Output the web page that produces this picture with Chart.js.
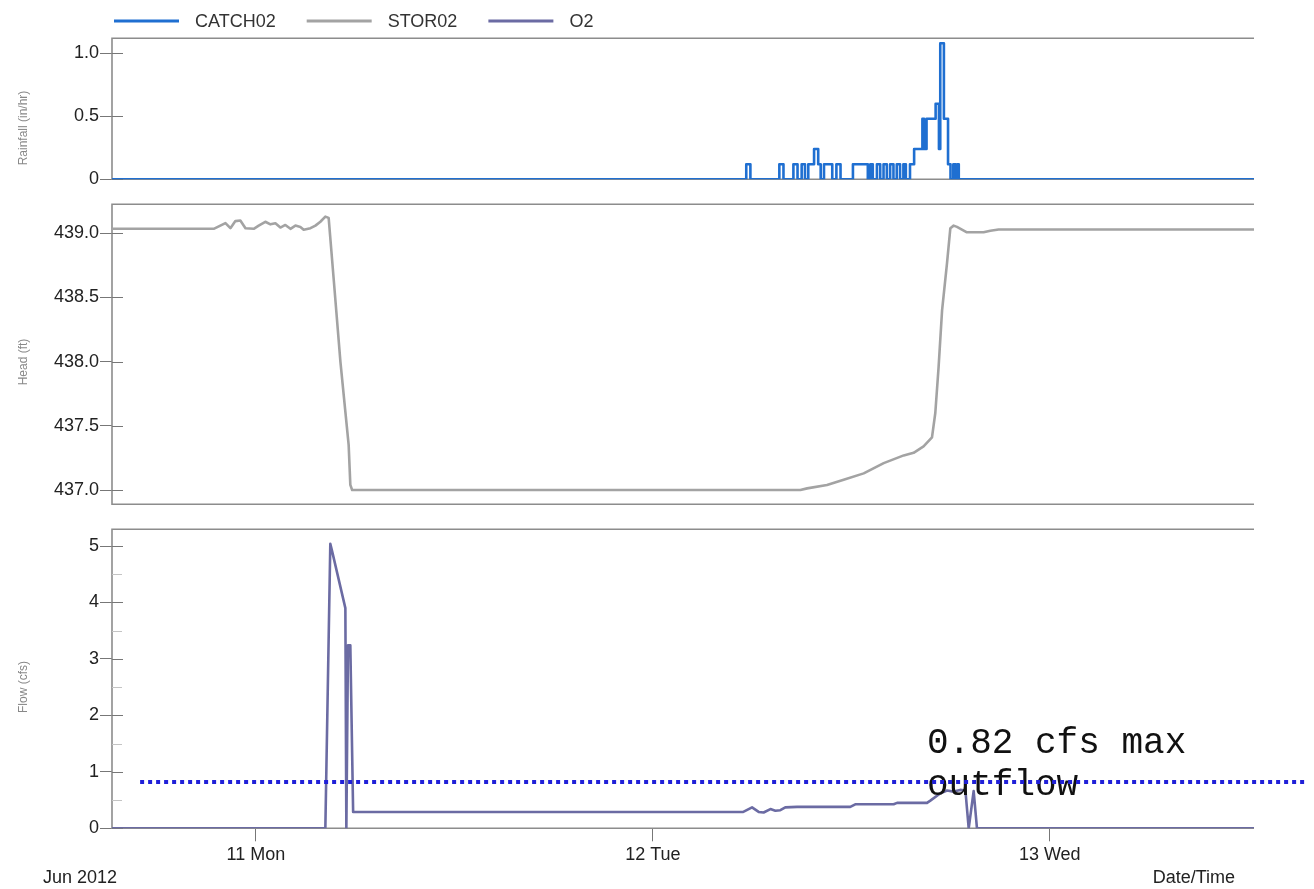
<!DOCTYPE html>
<html>
<head>
<meta charset="utf-8">
<title>CATCH02 / STOR02 / O2</title>
<script src="https://cdn.jsdelivr.net/npm/chart.js@4.4.1/dist/chart.umd.min.js"></script>
<style>
  html, body { margin: 0; padding: 0; background: #fff; }
  #wrap { position: relative; width: 1314px; height: 889px; overflow: hidden; background: #fff; }
  #wrap canvas { position: absolute; left: 0; }
</style>
</head>
<body>
<div id="wrap">
  <canvas id="rainChart" width="1314" height="200" style="top:0px"></canvas>
  <canvas id="headChart" width="1314" height="330" style="top:190px"></canvas>
  <canvas id="flowChart" width="1314" height="374" style="top:515px"></canvas>
</div>
<script>
// ---- time axis: hours counted from 10 Jun 2012 00:00 ----
const timeMin = 15.3;
const timeMax = 84.35;
const dayTicks  = [24, 48, 72];
const dayLabels = ['11 Mon', '12 Tue', '13 Wed'];
const monthLabel = 'Jun 2012';
const timeAxisLabel = 'Date/Time';

// ---- series names / colours ----
const seriesNames  = ['CATCH02', 'STOR02', 'O2'];
const seriesColors = ['#1f6fd1', '#a3a3a3', '#6b6ba3'];

// ---- CATCH02 rainfall (in/hr), step series: each value holds until the next time ----
const rainTime  = [15.3, 53.65, 53.9, 55.65, 55.9, 56.5, 56.75, 57.0, 57.2, 57.4, 57.75, 58.0, 58.15,
                   58.35, 58.85, 59.1, 59.35, 60.1, 61.0, 61.15, 61.3, 61.55, 61.75, 61.95, 62.15,
                   62.35, 62.55, 62.75, 62.95, 63.15, 63.3, 63.55, 63.8, 64.3, 64.4, 64.55, 65.1,
                   65.3, 65.38, 65.6, 65.85, 66.0, 66.17, 66.3, 66.4, 66.5, 84.35];
const rainValue = [0, 0.12, 0, 0.12, 0, 0.12, 0, 0.12, 0, 0.12, 0.24, 0.12, 0,
                   0.12, 0, 0.12, 0, 0.12, 0, 0.12, 0, 0.12, 0, 0.12, 0,
                   0.12, 0, 0.12, 0, 0.12, 0, 0.12, 0.24, 0.48, 0.24, 0.48, 0.6,
                   0.24, 1.08, 0.48, 0.12, 0, 0.12, 0, 0.12, 0, 0];
const rainTicks = [0, 0.5, 1.0];

// ---- STOR02 head (ft) ----
const headTime  = [15.3, 21.45, 21.85, 22.16, 22.46, 22.76, 23.06, 23.37, 23.87, 24.17, 24.57, 24.88,
                   25.18, 25.48, 25.78, 26.09, 26.39, 26.69, 26.89, 27.30, 27.60, 27.90, 28.20, 28.40,
                   28.70, 29.11, 29.61, 29.71, 29.82, 56.92, 57.33, 58.53, 59.54, 60.75, 61.96, 63.17,
                   63.77, 64.37, 64.88, 65.08, 65.28, 65.49, 65.79, 65.99, 66.19, 66.39, 66.99, 68.00,
                   68.41, 68.91, 84.35];
const headValue = [439.035, 439.035, 439.06, 439.08, 439.04, 439.095, 439.10, 439.04, 439.035, 439.06, 439.09, 439.07,
                   439.078, 439.045, 439.065, 439.035, 439.06, 439.05, 439.028, 439.04, 439.06, 439.09, 439.13, 439.12,
                   438.65, 438.0, 437.35, 437.04, 437.0, 437.0, 437.013, 437.04, 437.08, 437.13, 437.21, 437.27,
                   437.29, 437.34, 437.41, 437.6, 437.96, 438.4, 438.77, 439.04, 439.06, 439.05, 439.008, 439.008,
                   439.02, 439.03, 439.03];
const headTicks = [437.0, 437.5, 438.0, 438.5, 439.0];

// ---- O2 flow (cfs) ----
const flowTime  = [15.3, 28.20, 28.50, 28.64, 29.41, 29.47, 29.57, 29.71, 29.88, 53.47, 54.00, 54.40,
                   54.70, 55.11, 55.41, 55.71, 56.01, 56.72, 59.94, 60.24, 62.56, 62.77, 64.58, 64.78,
                   65.39, 65.79, 66.19, 66.59, 66.90, 67.10, 67.40, 67.60, 84.35];
const flowValue = [0, 0, 5.04, 4.87, 3.9, 0, 3.24, 3.24, 0.29, 0.29, 0.37, 0.29,
                   0.28, 0.34, 0.31, 0.32, 0.37, 0.38, 0.38, 0.425, 0.425, 0.45, 0.45, 0.49,
                   0.62, 0.67, 0.65, 0.68, 0.67, 0, 0.66, 0, 0];
const flowTicks = [0, 1, 2, 3, 4, 5];

// ---- allowable release note ----
const maxOutflow = 0.82;
const outflowSpan = [17.0, 87.5];

// ------------------------------------------------------------------
const FONT = '"Liberation Sans", Arial, Helvetica, sans-serif';
Chart.defaults.font.family = FONT;

const toPoints = (t, v) => t.map((x, i) => ({ x, y: v[i] }));

function timeScale(show) {
  return {
    type: 'linear', min: timeMin, max: timeMax, display: show,
    afterBuildTicks: s => { s.ticks = dayTicks.map(v => ({ value: v })); },
    afterFit: s => { s.height = show ? 60.7 : 0; },
    ticks: {
      callback: v => { const i = dayTicks.indexOf(v); return i >= 0 ? dayLabels[i] : ''; },
      font: { size: 18 }, color: '#222', padding: 3, maxRotation: 0, autoSkip: false
    },
    grid: { drawOnChartArea: false, drawTicks: true, tickLength: 13, color: '#777', lineWidth: 1 },
    border: { display: false }
  };
}

function valueScale(min, max, tickVals, fmt) {
  return {
    type: 'linear', position: 'left', min, max,
    afterBuildTicks: s => { s.ticks = tickVals.map(v => ({ value: v })); },
    afterFit: s => { s.width = 112; },
    ticks: { callback: fmt, font: { size: 18 }, color: '#222', padding: 1 },
    grid: { drawOnChartArea: false, drawTicks: true, tickLength: 12, color: '#777', lineWidth: 1 },
    border: { display: false }
  };
}

// frame, inner tick stubs, minor ticks and the rotated axis caption of each panel
const panelPlugin = {
  id: 'panel',
  beforeDatasetsDraw(chart, args, opts) {
    const { ctx, chartArea: a } = chart;
    const ys = chart.scales.y;
    ctx.save();
    ctx.strokeStyle = '#8c8c8c';
    ctx.lineWidth = 1.6;
    ctx.beginPath();
    ctx.moveTo(a.right, a.top);
    ctx.lineTo(a.left, a.top);
    ctx.lineTo(a.left, a.bottom);
    ctx.lineTo(a.right, a.bottom);
    ctx.stroke();

    ctx.lineWidth = 1;
    ctx.strokeStyle = '#777';
    const vals = ys.ticks.map(t => t.value);
    vals.forEach(v => {
      const py = Math.round(ys.getPixelForValue(v)) + 0.5;
      ctx.beginPath(); ctx.moveTo(a.left, py); ctx.lineTo(a.left + 11, py); ctx.stroke();
    });
    if (opts.minor) {
      ctx.strokeStyle = '#c4c4c4';
      for (let i = 0; i < vals.length - 1; i++) {
        const py = Math.round(ys.getPixelForValue((vals[i] + vals[i + 1]) / 2)) + 0.5;
        ctx.beginPath(); ctx.moveTo(a.left, py); ctx.lineTo(a.left + 10, py); ctx.stroke();
      }
    }

    ctx.translate(24, opts.titleY);
    ctx.rotate(-Math.PI / 2);
    ctx.font = '12px ' + FONT;
    ctx.fillStyle = '#888';
    ctx.textAlign = 'center';
    ctx.textBaseline = 'middle';
    ctx.fillText(opts.title, 0, 0);
    ctx.restore();
  }
};

// series key across the top of the first panel
const keyPlugin = {
  id: 'seriesKey',
  afterDraw(chart, args, opts) {
    if (!opts.show) return;
    const ctx = chart.ctx;
    let x = 114;
    const y = 21;
    ctx.save();
    ctx.font = '18px ' + FONT;
    ctx.textBaseline = 'middle';
    seriesNames.forEach((name, i) => {
      ctx.fillStyle = seriesColors[i];
      ctx.fillRect(x, y - 1.5, 65, 3);
      ctx.fillStyle = '#333';
      ctx.fillText(name, x + 81, y + 1);
      x += 81 + ctx.measureText(name).width + 31;
    });
    ctx.restore();
  }
};

// dotted allowable-release line with its note, plus the date captions under the time axis
const notePlugin = {
  id: 'outflowNote',
  afterDatasetsDraw(chart, args, opts) {
    if (!opts.show) return;
    const ctx = chart.ctx;
    const xs = chart.scales.x, ys = chart.scales.y;
    ctx.save();
    ctx.font = '36px "Liberation Mono", "DejaVu Sans Mono", monospace';
    ctx.fillStyle = '#111';
    ctx.textBaseline = 'alphabetic';
    ctx.fillText(maxOutflow.toFixed(2) + ' cfs max', 927, 238);
    ctx.fillText('outflow', 927, 280);

    const py = ys.getPixelForValue(maxOutflow);
    ctx.strokeStyle = '#2020d8';
    ctx.lineWidth = 4;
    ctx.lineCap = 'butt';
    ctx.setLineDash([4, 4]);
    ctx.beginPath();
    ctx.moveTo(xs.getPixelForValue(outflowSpan[0]), py);
    ctx.lineTo(xs.getPixelForValue(outflowSpan[1]), py);
    ctx.stroke();
    ctx.setLineDash([]);

    ctx.font = '18px ' + FONT;
    ctx.fillStyle = '#222';
    ctx.textBaseline = 'middle';
    ctx.textAlign = 'left';
    ctx.fillText(monthLabel, 43, 363);
    ctx.textAlign = 'right';
    ctx.fillText(timeAxisLabel, 1235, 363);
    ctx.restore();
  }
};

function lineSet(label, t, v, color, stepped) {
  return {
    label, data: toPoints(t, v), borderColor: color, backgroundColor: color,
    borderWidth: 2.6, pointRadius: 0, fill: false, tension: 0, stepped: !!stepped,
    borderJoinStyle: 'round', borderCapStyle: 'round'
  };
}

function makeChart(id, dataset, yScale, showX, padding, panelOpts, extra) {
  return new Chart(document.getElementById(id), {
    type: 'line',
    data: { datasets: [dataset] },
    options: {
      responsive: false, animation: false, devicePixelRatio: 1,
      layout: { padding },
      scales: { x: timeScale(showX), y: yScale },
      plugins: Object.assign({
        legend: { display: false }, tooltip: { enabled: false },
        panel: panelOpts,
        seriesKey: { show: false },
        outflowNote: { show: false }
      }, extra || {})
    },
    plugins: [panelPlugin, keyPlugin, notePlugin]
  });
}

const fmt1 = v => (v === 0 ? '0' : v.toFixed(1));

makeChart('rainChart',
  lineSet(seriesNames[0], rainTime, rainValue, seriesColors[0], true),
  valueScale(0, 1.119, rainTicks, fmt1),
  false, { top: 38.3, right: 60, bottom: 20.7, left: 0 },
  { title: 'Rainfall (in/hr)', titleY: 128 },
  { seriesKey: { show: true } });

makeChart('headChart',
  lineSet(seriesNames[1], headTime, headValue, seriesColors[1], false),
  valueScale(436.889, 439.226, headTicks, v => v.toFixed(1)),
  false, { top: 14.3, right: 60, bottom: 15.7, left: 0 },
  { title: 'Head (ft)', titleY: 172 });

makeChart('flowChart',
  lineSet(seriesNames[2], flowTime, flowValue, seriesColors[2], false),
  valueScale(0, 5.296, flowTicks, v => String(v)),
  true, { top: 14.3, right: 60, bottom: 0, left: 0 },
  { title: 'Flow (cfs)', titleY: 172, minor: true },
  { outflowNote: { show: true } });
</script>
</body>
</html>
